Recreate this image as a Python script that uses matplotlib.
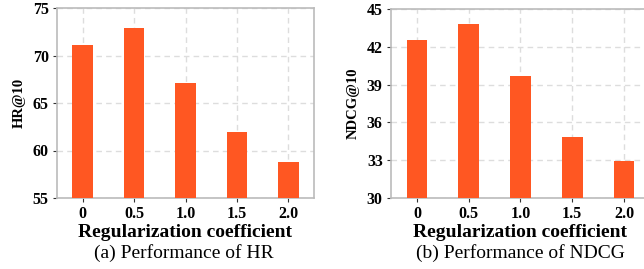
import numpy as np
import matplotlib
matplotlib.use('Agg')
import matplotlib.pyplot as plt

plt.rcParams['font.family'] = ['Liberation Serif', 'DejaVu Serif']

coef_labels = ['0', '0.5', '1.0', '1.5', '2.0']
hr_vals = [71.1, 72.85, 67.15, 62.0, 58.8]
ndcg_vals = [42.55, 43.8, 39.7, 34.85, 32.95]
hr_ticks = [55, 60, 65, 70, 75]
ndcg_ticks = [30, 33, 36, 39, 42, 45]

bar_color = '#FF5722'
W, H = 644, 269

fig = plt.figure(figsize=(W / 100, H / 100), dpi=100)

# rect in pixels: left, top, right, bottom ; cx = centre of caption
def panel(rect, cx, vals, yticks, ylabel, caption):
    ax = fig.add_axes([rect[0] / W, 1 - rect[3] / H, (rect[2] - rect[0]) / W, (rect[3] - rect[1]) / H])
    x = np.arange(len(vals))
    ax.bar(x, vals, width=0.4, color=bar_color, zorder=3)
    ax.set_xlim(-0.5, len(vals) - 0.5)
    ax.set_ylim(yticks[0], yticks[-1])
    ax.set_yticks(yticks)
    ax.set_xticks(x)
    ax.set_xticklabels(coef_labels)
    ax.grid(True, linestyle=(0, (4, 3)), color='#dddddd', linewidth=1, zorder=0)
    for s in ax.spines.values():
        s.set_color('#bbbbbb')
        s.set_linewidth(1.2)
    ax.tick_params(axis='both', length=3, width=0.8, color='#333333', labelsize=11.5, pad=3)
    for lab in ax.get_xticklabels() + ax.get_yticklabels():
        lab.set_fontweight('bold')
    ax.set_ylabel(ylabel, fontsize=10.5, fontweight='bold', labelpad=5)
    ax.set_xlabel('Regularization coefficient', fontsize=14, fontweight='bold', labelpad=1)
    fig.text(cx / W, 1 - 253 / H, caption, ha='center', va='center', fontsize=14)
    return ax

panel((57, 8, 314, 198), 184, hr_vals, hr_ticks, 'HR@10', '(a) Performance of HR')
panel((391, 9, 650, 198), 520, ndcg_vals, ndcg_ticks, 'NDCG@10', '(b) Performance of NDCG')

fig.savefig('out.png', dpi=100)
